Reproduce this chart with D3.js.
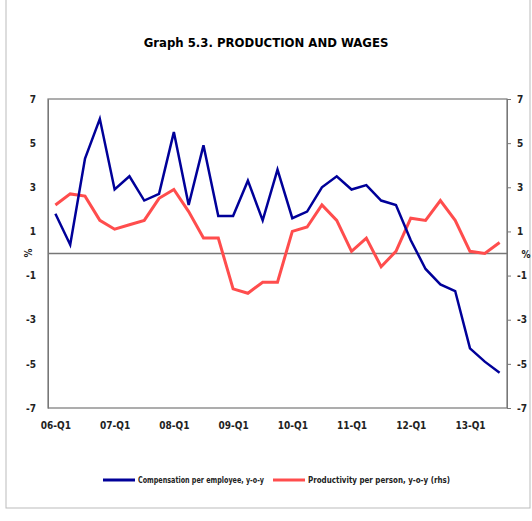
<!DOCTYPE html>
<html><head><meta charset="utf-8">
<script src="https://cdn.jsdelivr.net/npm/d3@7"></script>
<style>body{margin:0;background:#fff}text{font-family:"DejaVu Sans",sans-serif;font-stretch:condensed;font-weight:bold}</style>
</head><body><svg id="c" width="532" height="521"></svg>
<script>
var quarters = d3.range(31).map(function (i) { return String(6 + Math.floor(i / 4)).padStart(2, "0") + "-Q" + (i % 4 + 1); });
var compensation = [1.8, 0.4, 4.3, 6.1, 2.9, 3.5, 2.4, 2.7, 5.5, 2.2, 4.9, 1.7, 1.7, 3.3, 1.5, 3.8, 1.6, 1.9, 3.0, 3.5, 2.9, 3.1, 2.4, 2.2, 0.6, -0.7, -1.4, -1.7, -4.3, -4.9, -5.4];
var productivity = [2.2, 2.7, 2.6, 1.5, 1.1, 1.3, 1.5, 2.5, 2.9, 1.9, 0.7, 0.7, -1.6, -1.8, -1.3, -1.3, 1.0, 1.2, 2.2, 1.5, 0.1, 0.7, -0.6, 0.1, 1.6, 1.5, 2.4, 1.5, 0.1, 0.0, 0.5];
var yTicks = [-7, -5, -3, -1, 1, 3, 5, 7];

var svg = d3.select("#c");
var L = 48, R = 507, T = 99, B = 408;

// figure frame
svg.append("rect").attr("x", 6).attr("y", -2).attr("width", 524).attr("height", 510)
    .attr("fill", "none").attr("stroke", "#bbb");

var x = d3.scalePoint().domain(quarters).range([L, R]).padding(0.5);
var y = d3.scaleLinear().domain([-7, 7]).range([B, T]);
var fmt = function (d) { return String(d); };

svg.append("text").attr("x", 266).attr("y", 47).attr("text-anchor", "middle")
    .attr("font-size", 13).text("Graph 5.3. PRODUCTION AND WAGES");

svg.append("rect").attr("x", L).attr("y", T).attr("width", R - L).attr("height", B - T)
    .attr("fill", "none").attr("stroke", "#777").attr("stroke-width", 1.2);

var yl = svg.append("g").attr("transform", "translate(" + L + ",0)")
    .call(d3.axisLeft(y).tickValues(yTicks).tickFormat(fmt).tickSize(0).tickPadding(12));
var yr = svg.append("g").attr("transform", "translate(" + R + ",0)")
    .call(d3.axisRight(y).tickValues(yTicks).tickFormat(fmt).tickSize(4).tickPadding(6));
[yl, yr].forEach(function (g) {
    g.select(".domain").attr("stroke", "#777");
    g.selectAll("line").attr("stroke", "#777");
    g.selectAll("text").attr("font-size", 10).attr("fill", "#222");
});

var xa = svg.append("g").attr("transform", "translate(0," + B + ")")
    .call(d3.axisBottom(x).tickValues(quarters.filter(function (q) { return q.endsWith("Q1"); })).tickSize(0).tickPadding(14));
xa.select(".domain").remove();
xa.selectAll("text").attr("font-size", 10).attr("fill", "#222");

svg.append("text").attr("transform", "translate(32,253) rotate(-90)").attr("text-anchor", "middle")
    .attr("font-size", 10).attr("fill", "#222").text("%");
svg.append("text").attr("x", 526).attr("y", 258).attr("text-anchor", "middle")
    .attr("font-size", 10).attr("fill", "#222").text("%");

svg.append("line").attr("x1", L).attr("x2", R).attr("y1", y(0)).attr("y2", y(0))
    .attr("stroke", "#777").attr("stroke-width", 1.5);

var line = d3.line().x(function (d, i) { return x(quarters[i]); }).y(function (d) { return y(d); });
svg.append("path").datum(productivity).attr("d", line).attr("fill", "none")
    .attr("stroke", "#ff4d4d").attr("stroke-width", 3);
svg.append("path").datum(compensation).attr("d", line).attr("fill", "none")
    .attr("stroke", "#000099").attr("stroke-width", 2.5);

var legend = [["Compensation per employee, y-o-y", "#000099", 103, 126], ["Productivity per person, y-o-y (rhs)", "#ff4d4d", 273, 142]];
legend.forEach(function (d) {
    svg.append("line").attr("x1", d[2]).attr("x2", d[2] + 32).attr("y1", 480).attr("y2", 480)
        .attr("stroke", d[1]).attr("stroke-width", 3);
    svg.append("text").attr("x", d[2] + 35).attr("y", 483).attr("font-size", 9)
        .attr("textLength", d[3]).attr("lengthAdjust", "spacingAndGlyphs").attr("fill", "#222").text(d[0]);
});
</script></body></html>
